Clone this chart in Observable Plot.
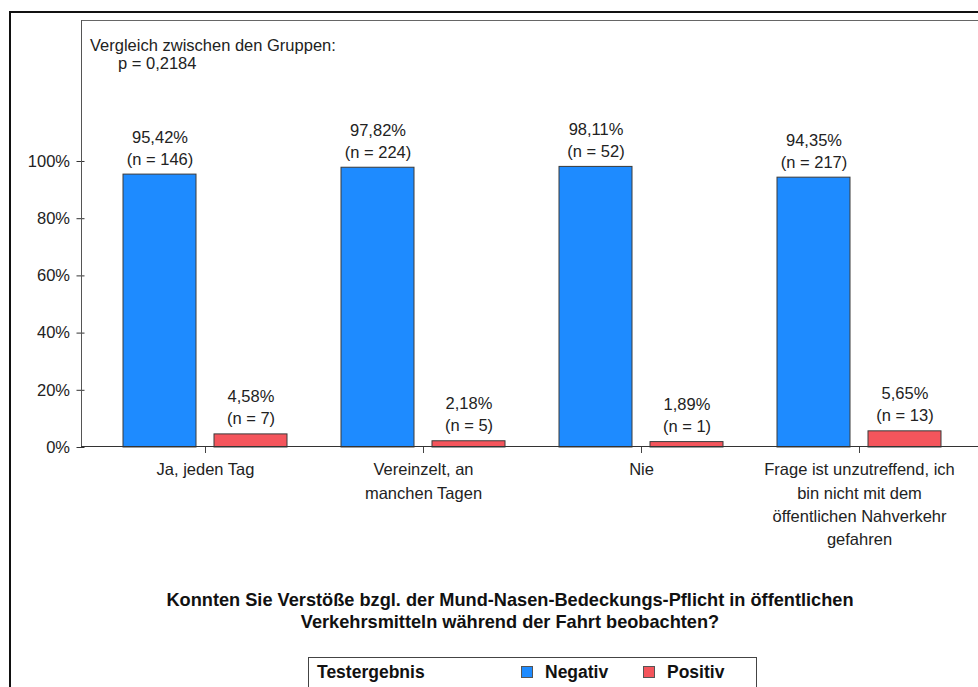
<!DOCTYPE html>
<html>
<head>
<meta charset="utf-8">
<script src="https://cdn.jsdelivr.net/npm/d3@7"></script>
<script src="https://cdn.jsdelivr.net/npm/@observablehq/plot@0.6"></script>
<style>
  html, body { margin: 0; padding: 0; background: #fff; }
  body { width: 978px; height: 687px; overflow: hidden; position: relative;
         font-family: "Liberation Sans", Arial, sans-serif; color: #222; }
  #outer { position: absolute; left: 9px; top: 11px; width: 1000px; height: 700px;
           border-left: 2px solid #111; border-top: 2px solid #111; }
  #chart { position: absolute; left: 0; top: 0; }
  #frameTop { position: absolute; left: 82px; top: 20px; width: 900px; height: 0; border-top: 1.5px solid #666; }
  #frameLeft { position: absolute; left: 81px; top: 20px; width: 0; height: 427px; border-left: 1.5px solid #555; }
  #baseline { position: absolute; left: 81px; top: 446px; width: 900px; height: 0; border-top: 1.5px solid #333; }
  #note1 { position: absolute; left: 90px; top: 36px; font-size: 16.5px; line-height: 18px; }
  #note2 { position: absolute; left: 118px; top: 54px; font-size: 16.5px; line-height: 18px; }
  #title { position: absolute; left: 110px; width: 800px; top: 589px; text-align: center;
           font-weight: bold; font-size: 18.2px; line-height: 22px; color: #111; }
  #legend { position: absolute; left: 308px; top: 657px; width: 447px; height: 30px;
            border: 1.5px solid #444; font-weight: bold; font-size: 17.5px; color: #111; }
  #legend .ttl { position: absolute; left: 8px; top: 4px; }
  #legend .item { position: absolute; top: 4px; }
  #legend .sw { display: inline-block; width: 10px; height: 10px; border: 1px solid #555; margin-right: 12px; vertical-align: 0px; }
</style>
</head>
<body>
<div id="outer"></div>
<div id="chart"></div>
<div id="frameTop"></div>
<div id="frameLeft"></div>
<div id="baseline"></div>
<div id="note1">Vergleich zwischen den Gruppen:</div>
<div id="note2">p = 0,2184</div>
<div id="title">Konnten Sie Verstöße bzgl. der Mund-Nasen-Bedeckungs-Pflicht in öffentlichen<br>Verkehrsmitteln während der Fahrt beobachten?</div>
<div id="legend"><span class="ttl">Testergebnis</span></div>
<script>
// ---- data ----
const categories = ["Ja, jeden Tag", "Vereinzelt, an manchen Tagen", "Nie", "Frage ist unzutreffend"];
const tickLabels = [
  "Ja, jeden Tag",
  "Vereinzelt, an\nmanchen Tagen",
  "Nie",
  "Frage ist unzutreffend, ich\nbin nicht mit dem\nöffentlichen Nahverkehr\ngefahren"
];
const groups = ["Negativ", "Positiv"];
const colors = ["#1E8BFF", "#F4555C"];
const negativPct = [95.42, 97.82, 98.11, 94.35];
const positivPct = [4.58, 2.18, 1.89, 5.65];
const negativN = [146, 224, 52, 217];
const positivN = [7, 5, 1, 13];
const yTicks = [0, 20, 40, 60, 80, 100];

const rows = [];
categories.forEach((c, i) => {
  rows.push({cat: c, group: groups[0], value: negativPct[i], n: negativN[i]});
  rows.push({cat: c, group: groups[1], value: positivPct[i], n: positivN[i]});
});
const fmt = v => v.toFixed(2).replace(".", ",") + "%";

const chart = Plot.plot({
  width: 978,
  height: 560,
  marginTop: 21,
  marginBottom: 113,
  marginLeft: 82,
  marginRight: 0,
  style: {fontFamily: '"Liberation Sans", Arial, sans-serif', fontSize: "16.5px", color: "#222", background: "transparent"},
  fx: {domain: categories, paddingInner: 0, paddingOuter: 0.0457, align: 0.575},
  x: {domain: groups, paddingInner: 0.2, paddingOuter: 0.29, axis: null},
  y: {domain: [0, 148.95]},
  color: {domain: groups, range: colors},
  marks: [
    Plot.axisY({ticks: yTicks, tickFormat: d => d + "%", tickSize: 8, tickPadding: 7, label: null,
                fontSize: 16.5, stroke: "#333", dx: -11.5}),
    Plot.axisFx({anchor: "bottom", tickSize: 6, tickPadding: 5, label: null, fontSize: 16.5, lineHeight: 1.42,
                 tickFormat: d => tickLabels[categories.indexOf(d)], stroke: "#444"}),
    Plot.barY(rows, {fx: "cat", x: "group", y: "value", fill: "group", stroke: "#3a3a3a", strokeWidth: 1}),
    Plot.text(rows, {fx: "cat", x: "group", y: "value", text: d => fmt(d.value) + "\n(n = " + d.n + ")",
                     lineAnchor: "bottom", dy: -10, lineHeight: 1.33, fontSize: 16.5, fill: "#222"})
  ]
});
document.getElementById("chart").appendChild(chart);

// legend built from groups/colors
const legend = document.getElementById("legend");
const itemLeft = [212, 334];
groups.forEach((g, i) => {
  const s = document.createElement("span");
  s.className = "item";
  s.style.left = itemLeft[i] + "px";
  s.innerHTML = `<span class="sw" style="background:${colors[i]}"></span>${g}`;
  legend.appendChild(s);
});
</script>
</body>
</html>
